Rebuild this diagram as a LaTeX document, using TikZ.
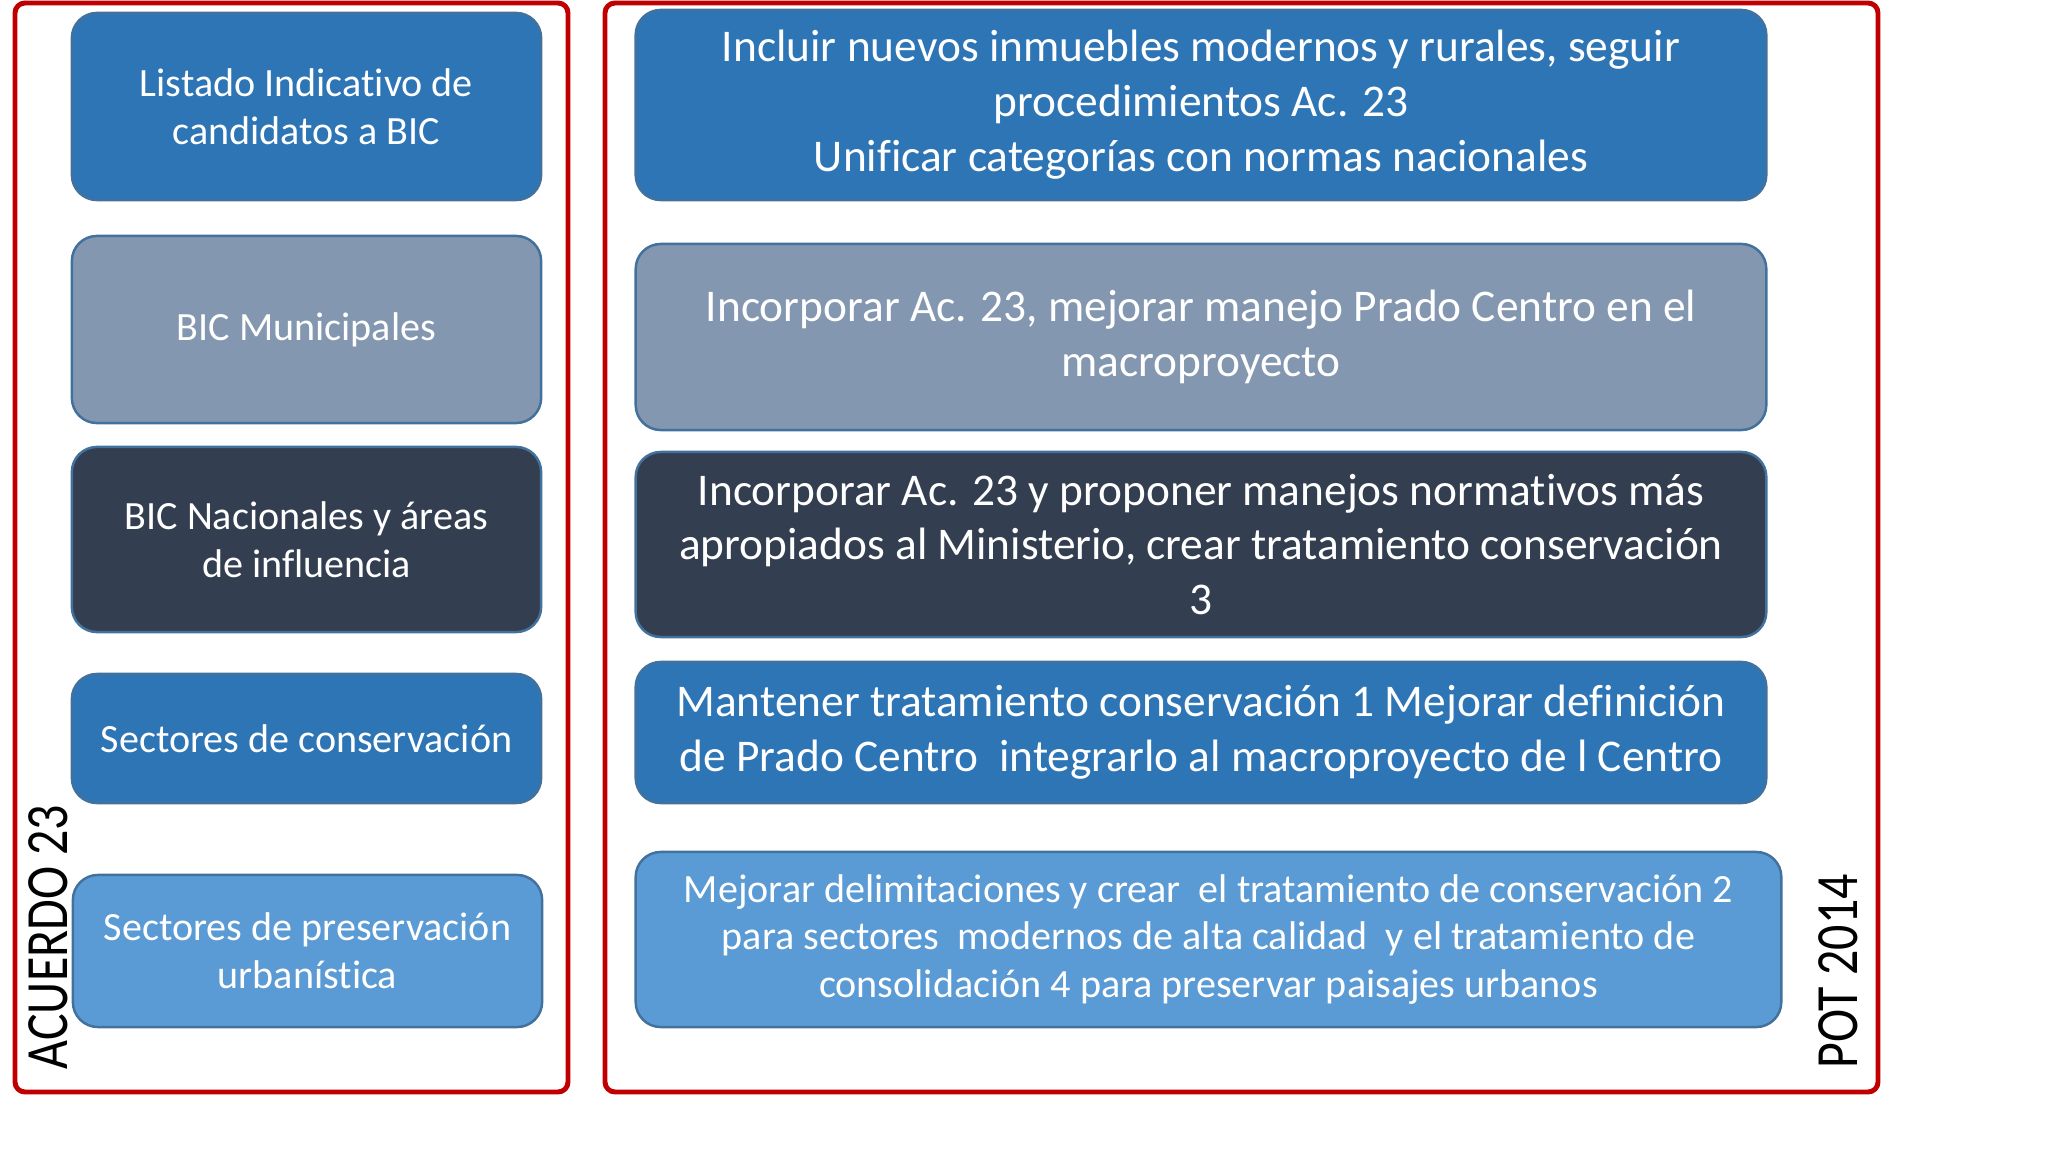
\documentclass[tikz,border=0pt]{standalone}
\usepackage{fontspec}
\setmainfont{Carlito}[Ligatures={NoCommon}]
\definecolor{azul}{HTML}{2E75B6}
\definecolor{grisazul}{HTML}{8497B0}
\definecolor{oscuro}{HTML}{333F50}
\definecolor{celeste}{HTML}{5B9BD5}
\definecolor{borde}{HTML}{41719C}
\definecolor{rojo}{HTML}{C00000}
\tikzset{
        caja/.style = {align=center, inner sep=0pt, text centered, text=white,
            rounded corners=0.25cm, draw=borde, line width=0.7pt},
        caja_b/.style = {caja, fill=azul},
        caja_g/.style = {caja, fill=grisazul},
        caja_d/.style = {caja, fill=oscuro},
        caja_l/.style = {caja, fill=celeste},
        izq/.style = {minimum width=4.69cm, font=\fontsize{11.4}{13.7}\selectfont},
        der/.style = {minimum width=11.30cm, font=\fontsize{12.9}{15.6}\selectfont},
        marco/.style = {draw=rojo, line width=1.4pt, rounded corners=0.1cm},
        rotulo/.style = {rotate=90, inner sep=0pt, font=\fontsize{14.2}{17}\selectfont}
    }

\begin{document}
\begin{tikzpicture}[x=0.01cm, y=-0.01cm]
            \useasboundingbox (0,0) rectangle (2048,1152);
            % marcos
            \draw [marco] (15,3) rectangle (568,1092);
            \draw [marco] (605,3) rectangle (1878,1092);
            % ACUERDO 23
            \node [caja_b, izq, minimum height=1.87cm] (listado) at (306.5,106.5)
                {Listado Indicativo de\\candidatos a BIC};
            \node [caja_g, izq, minimum height=1.87cm] (bicmun) at (306.5,329.5)
                {BIC Municipales};
            \node [caja_d, izq, minimum height=1.85cm] (bicnac) at (306.5,539.5)
                {BIC Nacionales y áreas\\de influencia};
            \node [caja_b, izq, minimum height=1.29cm] (sectcons) at (306.5,738.5)
                {Sectores de conservación};
            \node [caja_l, izq, minimum height=1.52cm] (sectpres) at (307.5,951)
                {Sectores de preservación\\urbanística};
            \node [rotulo] (acuerdo) at (48,937) {\scalebox{1}[1.2]{ACUERDO 23}};
            % POT 2014
            \node [caja_b, der, minimum height=1.90cm] (incluir) at (1201,105)
                {Incluir nuevos inmuebles modernos y rurales, seguir\\procedimientos Ac. 23\\Unificar categorías con normas nacionales};
            \node [caja_g, der, minimum height=1.86cm] (incorporar) at (1201,337)
                {Incorporar Ac. 23, mejorar manejo Prado Centro en el\\macroproyecto};
            \node [caja_d, der, minimum height=1.85cm] (proponer) at (1201,544.5)
                {Incorporar Ac. 23 y proponer manejos normativos más\\apropiados al Ministerio, crear tratamiento conservación\\3};
            \node [caja_b, der, minimum height=1.41cm] (mantener) at (1201,732.5)
                {Mantener tratamiento conservación 1 Mejorar definición\\de Prado Centro \ integrarlo al macroproyecto de l Centro};
            \node [caja_l, minimum width=11.45cm, minimum height=1.75cm,
                font=\fontsize{11.4}{13.6}\selectfont] (mejorar) at (1208.5,939.5)
                {Mejorar delimitaciones y crear \ el tratamiento de conservación 2\\para sectores \ modernos de alta calidad \ y el tratamiento de\\consolidación 4 para preservar paisajes urbanos};
            \node [rotulo] (pot) at (1838,971.5) {\scalebox{1}[1.2]{POT 2014}};
        \end{tikzpicture}
\end{document}
